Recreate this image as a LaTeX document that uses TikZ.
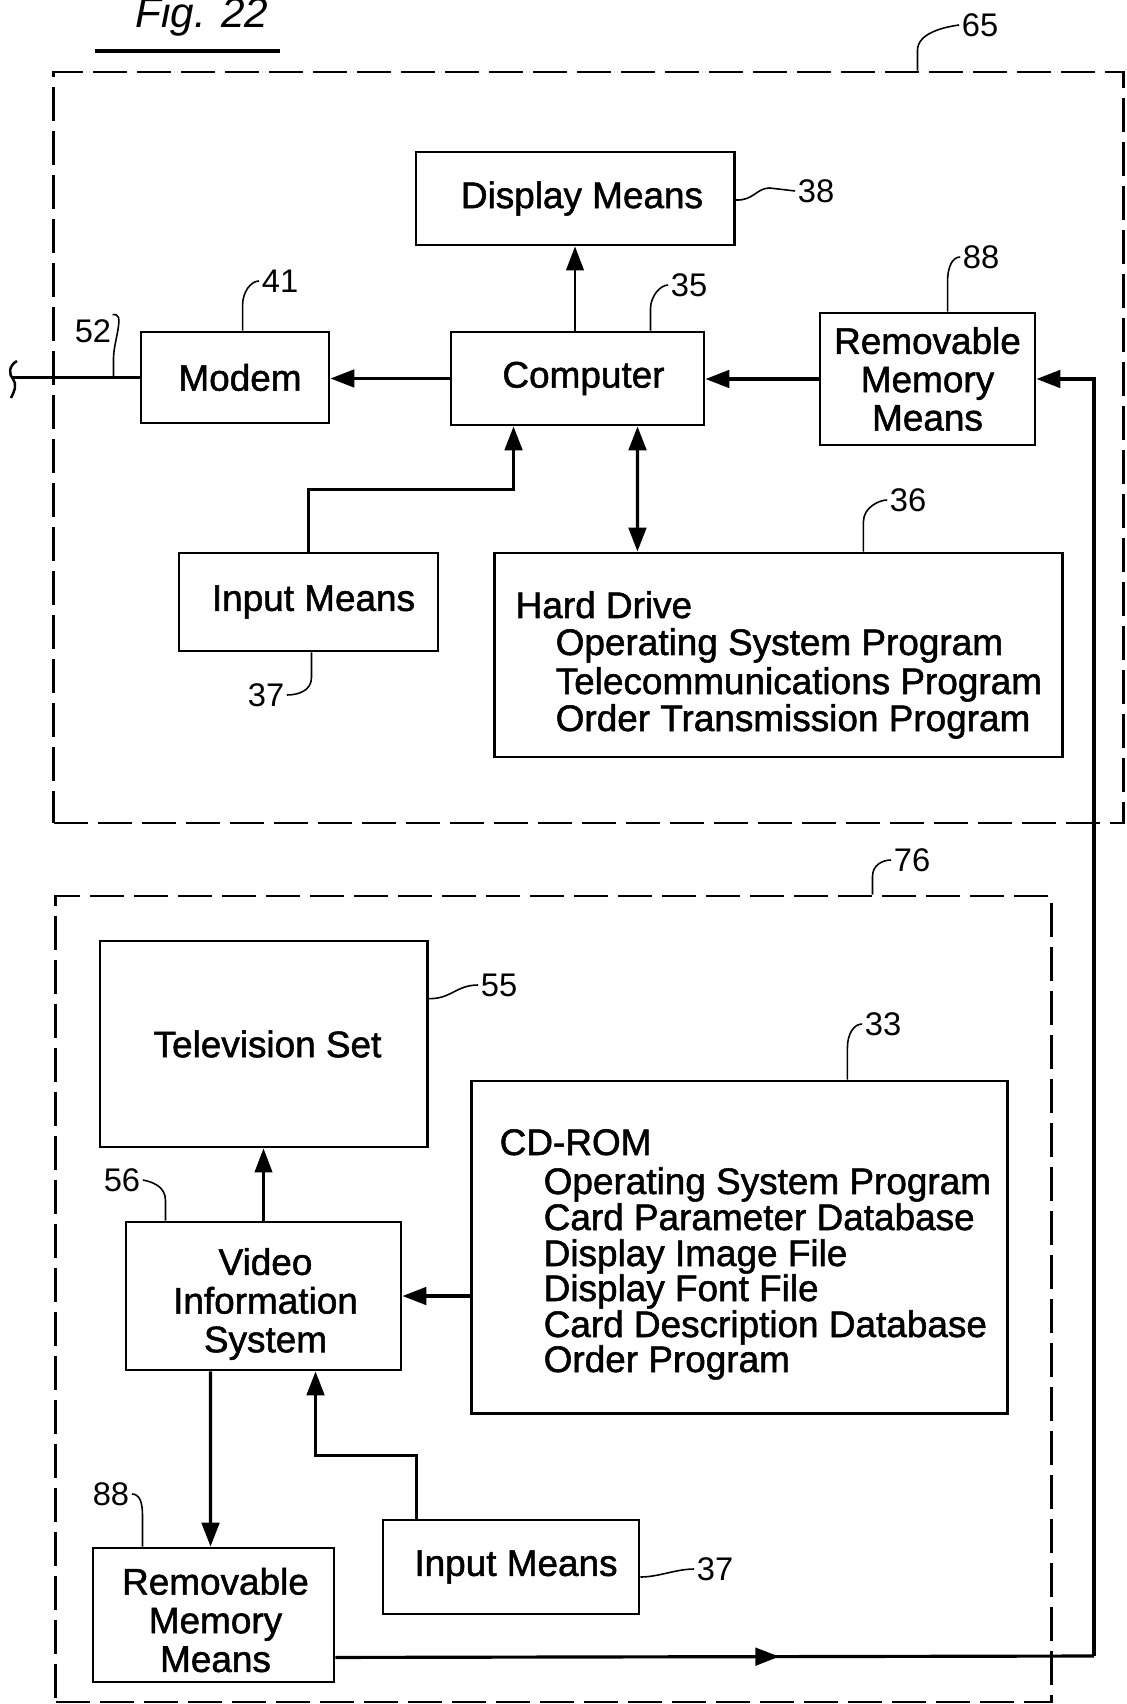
\documentclass[tikz,border=0pt]{standalone}
\usepackage{fontspec}
\setmainfont{Liberation Sans}
\newfontfamily\boxfont{Liberation Sans}[FakeBold=1.4]
\usetikzlibrary{arrows.meta,calc,decorations.markings}
\begin{document}
\begin{tikzpicture}[x=0.01cm,y=-0.01cm,
  box/.style={draw,line width=0.8pt,inner sep=0pt,align=center,font=\boxfont\fontsize{10.5}{10.9}\selectfont},
  boxtext/.style={inner sep=0pt,align=center,font=\boxfont\fontsize{10.5}{11}\selectfont},
  listline/.style={anchor=base west,inner sep=0pt,font=\boxfont\fontsize{10.5}{10.8}\selectfont},
  refnum/.style={inner sep=0pt,font=\fontsize{9.3}{9.3}\selectfont},
  leader/.style={line width=0.45pt},
  frame/.style={draw,line width=0.7pt,dash pattern=on 0.34cm off 0.1cm,inner sep=0pt},
  conn/.style={line width=0.9pt},
  thinconn/.style={line width=0.6pt},
  tip/.style={-{Triangle[length=6.8pt,width=5pt]}},
  arr/.style={conn,tip},
  tarr/.style={thinconn,tip},
  darr/.style={conn,{Triangle[length=6.8pt,width=5pt]}-{Triangle[length=6.8pt,width=5pt]}},
  midarrow/.style={postaction={decorate},decoration={markings,
     mark=at position #1 with {\arrow{Triangle[length=6.8pt,width=5pt]}}}},
]
\useasboundingbox (0,0) rectangle (1126,1704);

% title
\node[anchor=base,inner sep=0pt,font=\fontsize{12}{12}\selectfont\itshape] (title) at (202,28) {Fig. 22};
\draw[line width=1pt] ($(title.base)+(-107,23)$) -- ($(title.base)+(78,23)$);

% frames
\node[frame,minimum width=10.69cm,minimum height=7.51cm] (f65) at (588.5,447.5) {};
\node[frame,minimum width=9.95cm,minimum height=8.06cm] (f76) at (553.5,1299) {};

% upper boxes
\node[box,minimum width=3.18cm,minimum height=0.93cm] (disp) at (575,198.5) {\hspace*{0.14cm}Display Means};
\node[box,minimum width=2.53cm,minimum height=0.93cm] (comp) at (577.5,378.5) {\hspace*{0.12cm}Computer};
\node[box,minimum width=1.88cm,minimum height=0.91cm] (modem) at (235,377.5) {\hspace*{0.1cm}Modem};
\node[box,minimum width=2.15cm,minimum height=1.32cm] (rmm1) at (927.5,379) {Removable\\Memory\\Means};
\node[box,minimum width=2.59cm,minimum height=0.98cm] (inp1) at (308.5,602) {\hspace*{0.1cm}Input Means};
\node[box,minimum width=5.67cm,minimum height=2.04cm] (hd) at (778.5,655) {};
\node[listline] (hd0) at (515,618) {Hard Drive};
\node[listline] (hd1) at (555,655) {Operating System Program};
\node[listline] (hd2) at (555,694) {Telecommunications Program};
\node[listline] (hd3) at (555,731) {Order Transmission Program};

% lower boxes
\node[box,minimum width=3.27cm,minimum height=2.06cm] (tv) at (263.5,1044) {\hspace*{0.08cm}Television Set};
\node[box,minimum width=5.35cm,minimum height=3.32cm] (cd) at (739.5,1247) {};
\node[listline] (cd0) at (499,1155) {CD-ROM};
\node[listline] (cd1) at (543,1194) {Operating System Program};
\node[listline] (cd2) at (543,1230) {Card Parameter Database};
\node[listline] (cd3) at (543,1266) {Display Image File};
\node[listline] (cd4) at (543,1301) {Display Font File};
\node[listline] (cd5) at (543,1337) {Card Description Database};
\node[listline] (cd6) at (543,1372) {Order Program};
\node[box,minimum width=2.75cm,minimum height=1.48cm] (vis) at (263.5,1296) {};
\node[boxtext] (vist) at ($(vis.center)+(2,8)$) {Video\\Information\\System};
\node[box,minimum width=2.56cm,minimum height=0.94cm] (inp2) at (511,1567) {\hspace*{0.1cm}Input Means};
\node[box,minimum width=2.41cm,minimum height=1.34cm] (rmm2) at (213.5,1615) {};
\node[boxtext] (rmm2t) at ($(rmm2.center)+(2,5)$) {Removable\\Memory\\Means};

% reference numerals
\node[refnum] (n65) at (980,25) {65};
\node[refnum] (n38) at (816,191) {38};
\node[refnum] (n35) at (689,285) {35};
\node[refnum] (n41) at (280,281) {41};
\node[refnum] (n88a) at (981,257) {88};
\node[refnum] (n52) at (93,331) {52};
\node[refnum] (n37a) at (266,695) {37};
\node[refnum] (n36) at (908,500) {36};
\node[refnum] (n76) at (912,860) {76};
\node[refnum] (n55) at (499,985) {55};
\node[refnum] (n33) at (883,1024) {33};
\node[refnum] (n56) at (122,1180) {56};
\node[refnum] (n88b) at (111,1494) {88};
\node[refnum] (n37b) at (715,1569) {37};

% free-end coordinates
\coordinate (c52) at (12,377.5);
\coordinate (rc) at (1094,1656);

% connectors
\draw[arr] (comp.west) -- (comp.west -| modem.east);
\draw[arr] (rmm1.west) -- (rmm1.west -| comp.east);
\draw[tarr] (comp.north -| disp.south) -- (disp.south);
\draw[arr] (inp1.north) |- ($(comp.south west)+(64,63)$) -- ($(comp.south west)+(64,0)$);
\draw[darr] ($(comp.south west)+(188,0)$) -- ($(hd.north west)+(144,0)$);
\draw[conn] (modem.west) -- (c52);
\draw[line width=0.7pt] (17,361) .. controls (8,366) and (9,375) .. (13,379) .. controls (17,384) and (15,390) .. (11,398);
\draw[tarr] (vis.north) -- (tv.south);
\draw[arr] (vis.east -| cd.west) -- (vis.east);
\draw[arr] ($(inp2.north west)+(35,0)$) |- ($(vis.south west)+(191,84)$) -- ($(vis.south west)+(191,0)$);
\draw[arr] ($(vis.south west)+(86,0)$) -- ($(rmm2.north west)+(119,0)$);
\draw[conn,midarrow=0.585] ($(rmm2.south east)+(0,-26)$) -- (rc);
\draw[arr] (rc) |- (rmm1.east);

% leaders
\draw[leader] ($(f65.north west)+(865,0)$) -- ++(0,-20) .. controls +(0,-18) and +(-14,2) .. ($(n65.west)+(-2,0)$);
\draw[leader] ($(disp.east)+(0,1.5)$) .. controls +(18,1) and +(-13,0) .. ++(34,-12) -- ($(n38.west)+(-2,0)$);
\draw[leader] ($(comp.north west)+(201,0)$) -- ++(0,-22) .. controls +(0,-12) and +(-8,0) .. ($(n35.west)+(-2,0)$);
\draw[leader] ($(modem.north west)+(103,0)$) -- ++(0,-25) .. controls +(0,-14) and +(-8,0) .. ($(n41.west)+(-2,0)$);
\draw[leader] ($(rmm1.north west)+(129,0)$) -- ++(0,-30) .. controls +(0,-14) and +(-8,0) .. ($(n88a.west)+(-2,0)$);
\draw[leader] ($(modem.west)+(-26,0)$) -- ++(0,-20) .. controls +(0,-12) and +(2,8) .. ++(5,-40) .. controls +(-1,-3) and +(3,0) .. ++(-6,-3);
\draw[leader] ($(inp1.south)+(3,0)$) -- ++(0,25) .. controls +(0,14) and +(10,0) .. ($(n37a.east)+(2,0)$);
\draw[leader] ($(hd.north west)+(370,0)$) -- ++(0,-30) .. controls +(0,-14) and +(-8,0) .. ($(n36.west)+(-2,0)$);
\draw[leader] ($(f76.north west)+(818,0)$) -- ++(0,-18) .. controls +(0,-12) and +(-8,0) .. ($(n76.west)+(-2,0)$);
\draw[leader] ($(tv.north east)+(0,59)$) .. controls +(22,1) and +(-22,0) .. ($(n55.west)+(-2,0)$);
\draw[leader] ($(cd.north west)+(377,0)$) -- ++(0,-32) .. controls +(0,-14) and +(-8,0) .. ($(n33.west)+(-2,0)$);
\draw[leader] ($(vis.north west)+(41,0)$) -- ++(0,-20) .. controls +(0,-14) and +(10,2) .. ($(n56.east)+(2,0)$);
\draw[leader] ($(rmm2.north west)+(51,0)$) -- ++(0,-30) .. controls +(0,-14) and +(8,0) .. ($(n88b.east)+(2,0)$);
\draw[leader] ($(inp2.east)+(0,10)$) .. controls +(18,0) and +(-18,0) .. ($(n37b.west)+(-2,0)$);
\end{tikzpicture}
\end{document}
